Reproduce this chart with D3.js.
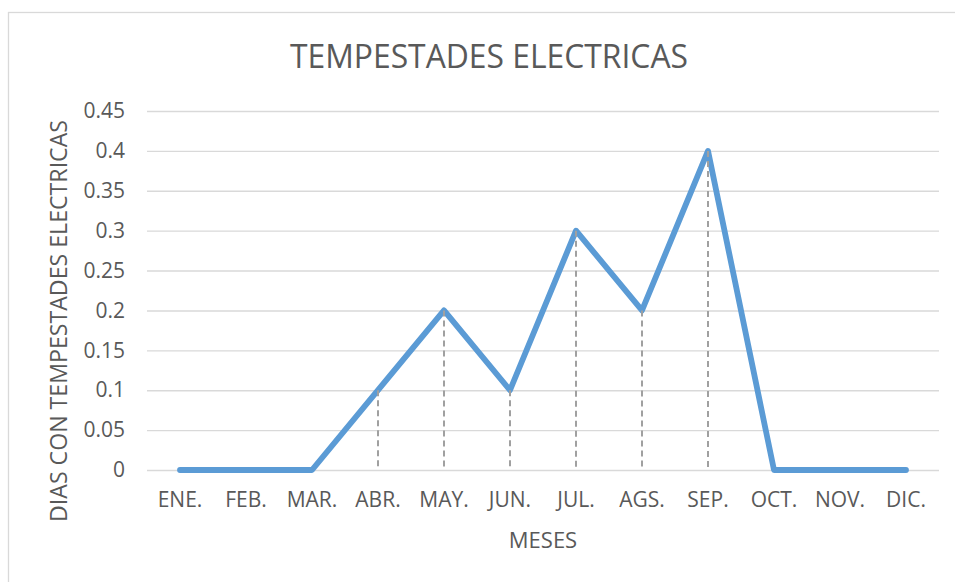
<!DOCTYPE html>
<html>
<head>
<meta charset="utf-8">
<script src="https://cdn.jsdelivr.net/npm/d3@7/dist/d3.min.js"></script>
<style>
  body { margin: 0; background: #fff; }
  svg { display: block; font-family: 'Open Sans', sans-serif; }
</style>
</head>
<body>
<svg id="chart" width="955" height="582"></svg>
<script>
const months = ['ENE.', 'FEB.', 'MAR.', 'ABR.', 'MAY.', 'JUN.', 'JUL.', 'AGS.', 'SEP.', 'OCT.', 'NOV.', 'DIC.'];
const dias = [0, 0, 0, 0.1, 0.2, 0.1, 0.3, 0.2, 0.4, 0, 0, 0];
const yTicks = [0, 0.05, 0.1, 0.15, 0.2, 0.25, 0.3, 0.35, 0.4, 0.45];

const title = 'TEMPESTADES ELECTRICAS';
const xTitle = 'MESES';
const yTitle = 'DIAS CON TEMPESTADES ELECTRICAS';

const svg = d3.select('#chart');
const plot = { left: 147, right: 939, top: 111, bottom: 470 };
const textColor = '#595959';

// chart frame (runs off the right and bottom of the picture)
svg.append('rect')
  .attr('x', 8.5).attr('y', 12.5)
  .attr('width', 980).attr('height', 600)
  .attr('fill', '#fff')
  .attr('stroke', '#d9d9d9')
  .attr('stroke-width', 1.3);

const x = d3.scaleBand().domain(months).range([plot.left, plot.right]);
const y = d3.scaleLinear().domain([0, 0.45]).range([plot.bottom, plot.top]);

// gridlines + y labels
const yAxis = d3.axisLeft(y)
  .tickValues(yTicks)
  .tickSize(-(plot.right - plot.left))
  .tickPadding(22)
  .tickFormat(d => d3.format('')(+d.toFixed(2)));

svg.append('g')
  .attr('transform', `translate(${plot.left},0)`)
  .call(yAxis)
  .call(g => g.select('.domain').remove())
  .call(g => g.selectAll('line').attr('stroke', '#d9d9d9').attr('stroke-width', 1.4))
  .call(g => g.selectAll('text')
    .attr('fill', textColor)
    .style('font-size', '21px')
    .style('font-family', "'Open Sans', sans-serif"));

// x labels
svg.append('g')
  .attr('transform', `translate(0,${plot.bottom})`)
  .call(d3.axisBottom(x).tickSize(0).tickPadding(22))
  .call(g => g.select('.domain').remove())
  .call(g => g.selectAll('text')
    .attr('fill', textColor)
    .style('font-size', '21px')
    .style('font-family', "'Open Sans', sans-serif"));

const cx = d => x(d.m) + x.bandwidth() / 2;
const pts = months.map((m, i) => ({ m, v: dias[i] }));

// series line
svg.append('path')
  .datum(pts)
  .attr('fill', 'none')
  .attr('stroke', '#5b9bd5')
  .attr('stroke-width', 5.8)
  .attr('stroke-linejoin', 'round')
  .attr('stroke-linecap', 'round')
  .attr('d', d3.line().x(cx).y(d => y(d.v)));

// drop lines
svg.append('g')
  .selectAll('line')
  .data(pts.filter(d => d.v > 0))
  .join('line')
  .attr('x1', cx).attr('x2', cx)
  .attr('y1', d => y(d.v)).attr('y2', y(0))
  .attr('stroke', '#a0a0a0')
  .attr('stroke-width', 2)
  .attr('stroke-dasharray', '6,4');

// titles
const titleText = svg.append('text')
  .attr('x', 489).attr('y', 68)
  .attr('text-anchor', 'middle')
  .attr('fill', textColor)
  .style('font-size', '33px')
  .text(title);
titleText.attr('textLength', 398).attr('lengthAdjust', 'spacingAndGlyphs');

svg.append('text')
  .attr('x', 543).attr('y', 548)
  .attr('text-anchor', 'middle')
  .attr('fill', textColor)
  .style('font-size', '22px')
  .text(xTitle);

svg.append('text')
  .attr('transform', 'translate(67,321) rotate(-90)')
  .attr('text-anchor', 'middle')
  .attr('fill', textColor)
  .style('font-size', '24px')
  .attr('textLength', 402)
  .attr('lengthAdjust', 'spacingAndGlyphs')
  .text(yTitle);
</script>
</body>
</html>
